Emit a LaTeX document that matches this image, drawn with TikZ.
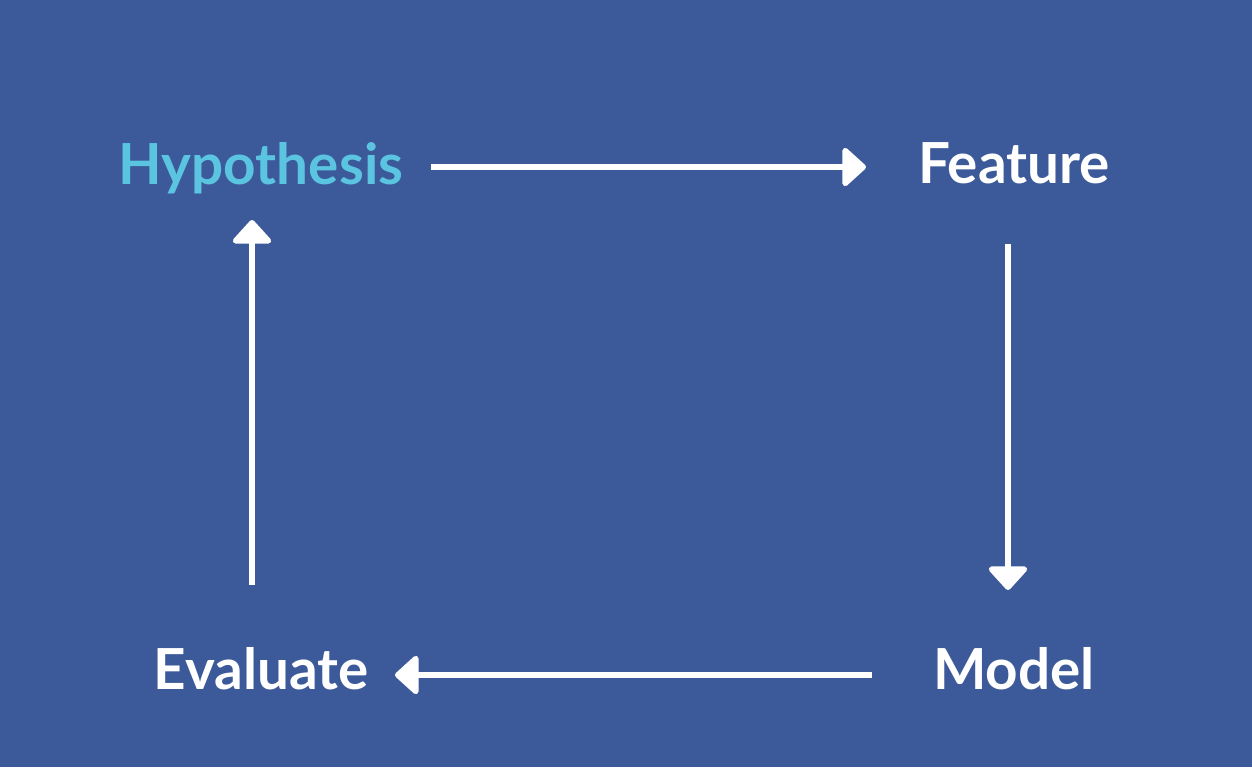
\documentclass[tikz,border=0pt]{standalone}
\usepackage{fontspec}
\setmainfont{Lato}
\usetikzlibrary{arrows.meta}
\definecolor{bg}{HTML}{3C5A99}
\definecolor{hyp}{HTML}{5BC4E1}
\tikzset{
  lbl/.style={font=\bfseries\fontsize{16.1}{19}\selectfont, text=white, anchor=base, inner sep=0pt},
  conn/.style={draw=white, line width=0.055cm, -{Triangle[length=0.25cm,width=0.44cm,round]}}
}
\begin{document}
\begin{tikzpicture}[y=-1cm]
\fill[bg] (0,0) rectangle (12.52,7.67);
\useasboundingbox (0,0) rectangle (12.52,7.67);
\node[lbl, text=hyp] (hyp) at (2.61,1.845) {Hypothesis};
\node[lbl] (feat) at (10.14,1.835) {Feature};
\node[lbl] (model) at (10.14,6.895) {Model};
\node[lbl] (eval) at (2.61,6.895) {Evaluate};
\coordinate (a1s) at (4.31,1.67);
\coordinate (a1e) at (8.66,1.67);
\coordinate (a2s) at (10.08,2.44);
\coordinate (a2e) at (10.08,5.90);
\coordinate (a3s) at (8.72,6.75);
\coordinate (a3e) at (3.95,6.75);
\coordinate (a4s) at (2.52,5.85);
\coordinate (a4e) at (2.52,2.20);
\draw[conn] (a1s) -- (a1e);
\draw[conn] (a2s) -- (a2e);
\draw[conn] (a3s) -- (a3e);
\draw[conn] (a4s) -- (a4e);
\end{tikzpicture}
\end{document}
